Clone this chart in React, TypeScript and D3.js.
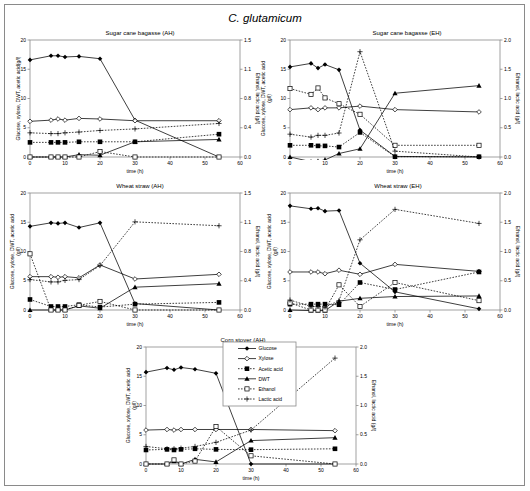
import React from "react";
import * as d3 from "d3";

const time = [0, 6, 8, 10, 14, 20, 30, 54];

// Sugar cane bagasse (AH)
const scbAH_glucose = [16.6, 17.3, 17.3, 17.1, 17.2, 16.8, 6.3, 0];
const scbAH_xylose = [6.1, 6.3, 6.5, 6.3, 6.6, 6.5, 6.2, 6.2];
const scbAH_acetic = [2.5, 2.5, 2.5, 2.5, 2.6, 2.6, 2.6, 3.9];
const scbAH_dwt = [0, 0, 0, 0, 0.4, 0.3, 2.6, 3.0];
const scbAH_ethanol = [0, 0, 0, 0, 0, 0.07, 0, 0];
const scbAH_lactic = [0.31, 0.3, 0.3, 0.31, 0.32, 0.34, 0.36, 0.43];

// Sugar cane bagasse (EH)
const scbEH_glucose = [15.4, 16.0, 15.2, 15.8, 14.9, 4.6, 0.1, 0];
const scbEH_xylose = [8.1, 8.4, 8.1, 8.4, 8.4, 8.7, 8.1, 7.7];
const scbEH_acetic = [2.0, 2.0, 1.9, 1.9, 1.7, 4.2, 0.05, 0.05];
const scbEH_dwt = [0, -0.8, -0.7, -0.5, 0.6, 1.4, 10.9, 12.2];
const scbEH_ethanol = [1.17, 1.07, 1.18, 1.01, 0.91, 0.73, 0.2, 0.2];
const scbEH_lactic = [0.39, 0.34, 0.37, 0.37, 0.41, 1.8, 0.1, 0];

// Wheat straw (AH)
const wsAH_glucose = [14.3, 14.9, 14.8, 14.9, 14.1, 14.9, 1.1, 0];
const wsAH_xylose = [5.7, 5.7, 5.6, 5.7, 5.5, 7.7, 5.3, 6.1];
const wsAH_acetic = [1.8, 0.6, 0.6, 0.6, 0.9, 0.5, 1.0, 1.3];
const wsAH_dwt = [0, 0, 0, 0, 0.7, 0.3, 3.9, 4.5];
const wsAH_ethanol = [0.72, 0, 0, 0, 0.06, 0.11, 0, 0];
const wsAH_lactic = [0.39, 0.36, 0.36, 0.38, 0.39, 0.57, 1.13, 1.08];

// Wheat straw (EH)
const wsEH_glucose = [17.8, 17.3, 17.4, 16.9, 17.0, 8.0, 3.1, 0.2];
const wsEH_xylose = [6.5, 6.5, 6.5, 6.2, 6.8, 6.1, 7.8, 6.6];
const wsEH_acetic = [1.0, 1.0, 1.0, 1.0, 0.9, 4.7, 3.5, 6.5];
const wsEH_dwt = [0, -0.1, -0.1, -0.1, 1.5, 2.0, 2.3, 2.4];
const wsEH_ethanol = [0.12, 0, 0, 0, 0.43, 0.06, 0.47, 0.16];
const wsEH_lactic = [0.17, 0.06, 0.06, 0.05, 0.16, 1.2, 1.72, 1.48];

// Corn stover (AH)
const csAH_glucose = [15.7, 16.4, 16.1, 16.5, 16.2, 15.5, 0, 0];
const csAH_xylose = [5.8, 5.9, 5.8, 5.9, 5.9, 5.9, 5.9, 5.7];
const csAH_acetic = [2.4, 2.5, 2.4, 2.5, 2.6, 2.5, 2.45, 2.6];
const csAH_dwt = [0, 0, 0.45, 0, 0.8, 0.35, 4.0, 4.5];
const csAH_ethanol = [0, 0, 0.07, 0, 0.05, 0.64, 0.14, 0];
const csAH_lactic = [0.3, 0.26, 0.26, 0.27, 0.3, 0.37, 0.58, 1.81];

const xTicks = [0, 10, 20, 30, 40, 50, 60];
const leftTicks = [0, 5, 10, 15, 20];
const rightTicks15 = [0, 0.375, 0.75, 1.125, 1.5];
const rightTicks20 = [0, 0.5, 1.0, 1.5, 2.0];

const seriesNames = ["Glucose", "Xylose", "Acetic acid", "DWT", "Ethanol", "Lactic acid"];
const seriesAxis = ["L", "L", "L", "L", "R", "R"];
const seriesDashed = [false, false, true, false, true, true];
const seriesMarker = ["diamondF", "diamondO", "squareF", "triangleF", "squareO", "plus"];

const FONT = "'Liberation Sans', Arial, sans-serif";
const PW = 210;
const PH = 117;
const AXIS = "#8a8a8a";

type Panel = {
  id: string;
  title: string;
  titleX: number;
  x0: number;
  y0: number;
  rightTicks: number[];
  leftTitle: string[];
  leftTitleOff: number;
  data: number[][];
  legend?: boolean;
};

const panels: Panel[] = [
  { id: "p1", title: "Sugar cane bagasse (AH)", titleX: 140, x0: 30, y0: 40, rightTicks: rightTicks15,
    leftTitle: ["Glucose, xylose, DWT, acetic acid(g/l)"], leftTitleOff: 10,
    data: [scbAH_glucose, scbAH_xylose, scbAH_acetic, scbAH_dwt, scbAH_ethanol, scbAH_lactic] },
  { id: "p2", title: "Sugar cane bagasse (EH)", titleX: 407, x0: 290, y0: 40, rightTicks: rightTicks20,
    leftTitle: ["Glucose, xylose, DWT, acetic acid", "(g/l)"], leftTitleOff: 25,
    data: [scbEH_glucose, scbEH_xylose, scbEH_acetic, scbEH_dwt, scbEH_ethanol, scbEH_lactic] },
  { id: "p3", title: "Wheat straw (AH)", titleX: 140, x0: 30, y0: 193, rightTicks: rightTicks15,
    leftTitle: ["Glucose, xylose, DWT, acetic acid", "(g/l)"], leftTitleOff: 16,
    data: [wsAH_glucose, wsAH_xylose, wsAH_acetic, wsAH_dwt, wsAH_ethanol, wsAH_lactic] },
  { id: "p4", title: "Wheat straw (EH)", titleX: 398, x0: 290, y0: 193, rightTicks: rightTicks20,
    leftTitle: ["Glucose, xylose, DWT, acetic acid", "(g/l)"], leftTitleOff: 19,
    data: [wsEH_glucose, wsEH_xylose, wsEH_acetic, wsEH_dwt, wsEH_ethanol, wsEH_lactic] },
  { id: "p5", title: "Corn stover (AH)", titleX: 243, x0: 146, y0: 347, rightTicks: rightTicks20,
    leftTitle: ["Glucose, xylose, DWT, acetic acid", "(g/l)"], leftTitleOff: 16,
    data: [csAH_glucose, csAH_xylose, csAH_acetic, csAH_dwt, csAH_ethanol, csAH_lactic], legend: true },
];

function Marker({ kind, x, y }: { kind: string; x: number; y: number }) {
  const s = 2.3;
  switch (kind) {
    case "diamondF":
      return <path d={`M${x},${y - s}L${x + s},${y}L${x},${y + s}L${x - s},${y}Z`} fill="#000" />;
    case "diamondO":
      return <path d={`M${x},${y - s}L${x + s},${y}L${x},${y + s}L${x - s},${y}Z`} fill="#fff" stroke="#000" strokeWidth={0.7} />;
    case "squareF":
      return <rect x={x - 2.3} y={y - 2.3} width={4.6} height={4.6} fill="#000" />;
    case "squareO":
      return <rect x={x - 2.1} y={y - 2.1} width={4.2} height={4.2} fill="#fff" stroke="#000" strokeWidth={0.7} />;
    case "triangleF":
      return <path d={`M${x},${y - 2.6}L${x + 2.6},${y + 2}L${x - 2.6},${y + 2}Z`} fill="#000" />;
    case "plus":
      return (
        <g stroke="#000" strokeWidth={0.7}>
          <line x1={x - 2.6} x2={x + 2.6} y1={y} y2={y} />
          <line x1={x} x2={x} y1={y - 2.6} y2={y + 2.6} />
        </g>
      );
    default:
      return null;
  }
}

function PanelChart({ p }: { p: Panel }) {
  const x = d3.scaleLinear().domain([0, 60]).range([p.x0, p.x0 + PW]);
  const yL = d3.scaleLinear().domain([0, 20]).range([p.y0 + PH, p.y0]);
  const rMax = p.rightTicks[p.rightTicks.length - 1];
  const yR = d3.scaleLinear().domain([0, rMax]).range([p.y0 + PH, p.y0]);
  const x1 = p.x0 + PW;
  const yb = p.y0 + PH;
  const cy = p.y0 + PH / 2;
  const clipId = "clip-" + p.id;
  return (
    <g>
      <defs>
        <clipPath id={clipId}>
          <rect x={p.x0 - 4} y={p.y0 - 4} width={PW + 8} height={PH + 7} />
        </clipPath>
      </defs>
      <text x={p.titleX} y={p.y0 - 5} fontSize={6} textAnchor="middle" fill="#000">{p.title}</text>
      <rect x={p.x0} y={p.y0} width={PW} height={PH} fill="none" stroke={AXIS} strokeWidth={0.8} />
      {leftTicks.map((t) => (
        <g key={"l" + t}>
          <line x1={p.x0 - 2.5} x2={p.x0} y1={yL(t)} y2={yL(t)} stroke={AXIS} strokeWidth={0.8} />
          <text x={p.x0 - 4} y={yL(t) + 1.7} fontSize={5} textAnchor="end">{t}</text>
        </g>
      ))}
      {p.rightTicks.map((t) => (
        <g key={"r" + t}>
          <line x1={x1} x2={x1 + 2.5} y1={yR(t)} y2={yR(t)} stroke={AXIS} strokeWidth={0.8} />
          <text x={x1 + 4} y={yR(t) + 1.7} fontSize={5} textAnchor="start">{t.toFixed(1)}</text>
        </g>
      ))}
      {xTicks.map((t) => (
        <g key={"x" + t}>
          <line x1={x(t)} x2={x(t)} y1={yb} y2={yb + 2.5} stroke={AXIS} strokeWidth={0.8} />
          <text x={x(t)} y={yb + 8} fontSize={5} textAnchor="middle">{t}</text>
        </g>
      ))}
      <text x={p.x0 + PW / 2} y={yb + 15.5} fontSize={5} textAnchor="middle">time (h)</text>
      {p.leftTitle.map((line, i) => {
        const lx = p.x0 - p.leftTitleOff + i * 6;
        return (
          <text key={i} x={lx} y={cy} fontSize={5} textAnchor="middle" transform={`rotate(-90 ${lx} ${cy})`}>{line}</text>
        );
      })}
      <text x={x1 + 16} y={cy} fontSize={5} textAnchor="middle" transform={`rotate(90 ${x1 + 16} ${cy})`}>Ethanol, lactic acid (g/l)</text>
      <g clipPath={`url(#${clipId})`}>
        {p.data.map((vals, si) => {
          const ys = seriesAxis[si] === "L" ? yL : yR;
          const line = d3.line<number>().x((_, i) => x(time[i])).y((v) => ys(v));
          return (
            <g key={si}>
              <path d={line(vals) || ""} fill="none" stroke="#000" strokeWidth={0.75}
                strokeDasharray={seriesDashed[si] ? "1.6,1.4" : undefined} />
              {vals.map((v, i) => (
                <Marker key={i} kind={seriesMarker[si]} x={x(time[i])} y={ys(v)} />
              ))}
            </g>
          );
        })}
      </g>
      {p.legend && (
        <g>
          <rect x={223} y={342} width={73} height={64} fill="#fff" stroke={AXIS} strokeWidth={0.8} />
          {seriesNames.map((n, i) => {
            const ly = 348.5 + i * 10.1;
            return (
              <g key={n}>
                <line x1={238} x2={256} y1={ly} y2={ly} stroke="#000" strokeWidth={0.75}
                  strokeDasharray={seriesDashed[i] ? "1.6,1.4" : undefined} />
                <Marker kind={seriesMarker[i]} x={247} y={ly} />
                <text x={258.5} y={ly + 1.8} fontSize={5}>{n}</text>
              </g>
            );
          })}
        </g>
      )}
    </g>
  );
}

export default function App() {
  return (
    <svg width={530} height={491} style={{ position: "absolute", left: 0, top: 0, background: "#fff" }}
      fontFamily={FONT}>
      <rect x={0} y={0} width={530} height={491} fill="#fff" />
      <rect x={4.5} y={4.5} width={520} height={481} fill="none" stroke={AXIS} strokeWidth={1} />
      <text x={265} y={22} fontSize={11.5} fontStyle="italic" textAnchor="middle">C. glutamicum</text>
      {panels.map((p) => (
        <PanelChart key={p.id} p={p} />
      ))}
    </svg>
  );
}
